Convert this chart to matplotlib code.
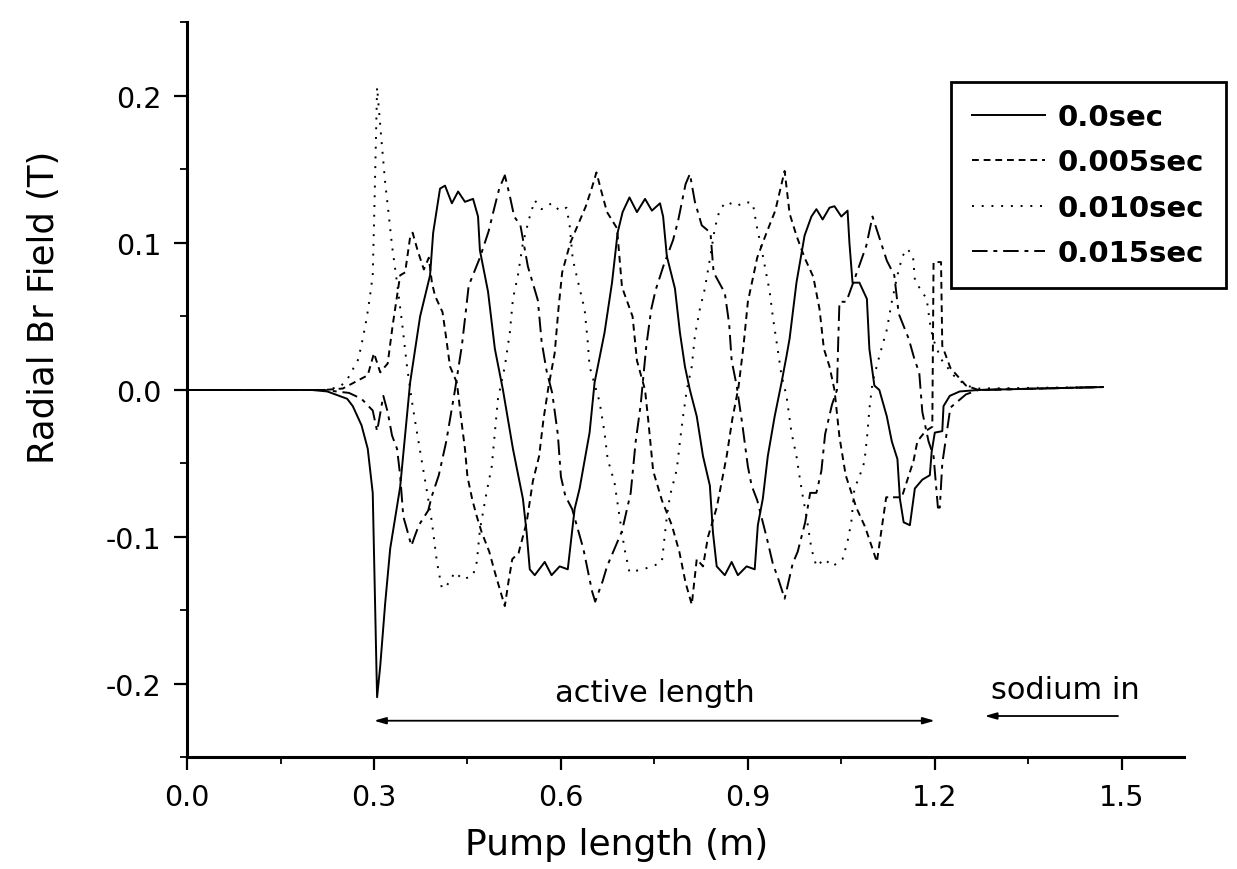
import matplotlib
matplotlib.use('Agg')
from matplotlib import pyplot as plt
from matplotlib.ticker import MultipleLocator

# 0.0 sec (solid)
X_T0 = [0.0, 0.20, 0.225, 0.257, 0.266, 0.280, 0.290, 0.298, 0.301, 0.304, 0.305, 0.310, 0.318, 0.326,
        0.342, 0.358, 0.374, 0.390, 0.395, 0.406, 0.414, 0.425, 0.435, 0.446, 0.459, 0.467, 0.470, 0.483,
        0.494, 0.507, 0.523, 0.539, 0.545, 0.550, 0.558, 0.574, 0.585, 0.598, 0.611, 0.622, 0.630, 0.646,
        0.654, 0.670, 0.682, 0.691, 0.699, 0.710, 0.722, 0.735, 0.746, 0.759, 0.764, 0.770, 0.783, 0.791,
        0.799, 0.807, 0.818, 0.828, 0.839, 0.844, 0.850, 0.863, 0.874, 0.884, 0.898, 0.911, 0.916, 0.924,
        0.932, 0.943, 0.954, 0.962, 0.967, 0.978, 0.991, 1.002, 1.010, 1.020, 1.031, 1.039, 1.050, 1.060,
        1.063, 1.068, 1.079, 1.091, 1.095, 1.103, 1.111, 1.123, 1.131, 1.140, 1.144, 1.150, 1.160, 1.168,
        1.180, 1.192, 1.195, 1.200, 1.212, 1.214, 1.224, 1.240, 1.27, 1.47]
Y_T0 = [0.0, 0.0, -0.001, -0.006, -0.011, -0.024, -0.040, -0.070, -0.130, -0.190, -0.209, -0.188, -0.145,
        -0.108, -0.066, 0.005, 0.050, 0.078, 0.107, 0.137, 0.139, 0.127, 0.135, 0.128, 0.130, 0.118, 0.095,
        0.067, 0.028, 0.000, -0.040, -0.074, -0.097, -0.122, -0.126, -0.117, -0.126, -0.120, -0.122, -0.081,
        -0.067, -0.029, 0.005, 0.039, 0.073, 0.107, 0.121, 0.131, 0.121, 0.130, 0.122, 0.127, 0.118, 0.091,
        0.069, 0.039, 0.016, 0.000, -0.018, -0.045, -0.065, -0.097, -0.120, -0.126, -0.117, -0.126, -0.120,
        -0.122, -0.092, -0.074, -0.045, -0.018, 0.005, 0.023, 0.035, 0.073, 0.105, 0.118, 0.123, 0.116,
        0.124, 0.125, 0.118, 0.122, 0.100, 0.073, 0.073, 0.062, 0.028, 0.003, 0.000, -0.018, -0.035, -0.047,
        -0.074, -0.090, -0.092, -0.067, -0.061, -0.058, -0.042, -0.029, -0.028, -0.011, -0.004, -0.001,
        0.0, 0.002]

# 0.005 sec (dashed)
X_T1 = [0.0, 0.22, 0.25, 0.29, 0.30, 0.31, 0.322, 0.33, 0.342, 0.350, 0.358, 0.362, 0.370, 0.380, 0.388,
        0.393, 0.398, 0.410, 0.416, 0.422, 0.433, 0.440, 0.446, 0.450, 0.458, 0.465, 0.473, 0.485, 0.494,
        0.505, 0.510, 0.516, 0.522, 0.532, 0.545, 0.555, 0.565, 0.572, 0.580, 0.590, 0.596, 0.602, 0.615,
        0.630, 0.640, 0.650, 0.657, 0.665, 0.674, 0.690, 0.698, 0.715, 0.722, 0.735, 0.740, 0.748, 0.762,
        0.778, 0.790, 0.800, 0.810, 0.818, 0.828, 0.836, 0.850, 0.866, 0.875, 0.885, 0.893, 0.900, 0.915,
        0.930, 0.944, 0.959, 0.967, 0.978, 0.991, 1.005, 1.015, 1.022, 1.031, 1.039, 1.047, 1.057, 1.074,
        1.088, 1.100, 1.107, 1.122, 1.147, 1.166, 1.172, 1.185, 1.196, 1.198, 1.210, 1.212, 1.225, 1.25,
        1.27, 1.47]
Y_T1 = [0.0, 0.0, 0.001, 0.010, 0.025, 0.012, 0.018, 0.044, 0.078, 0.080, 0.104, 0.107, 0.095, 0.082,
        0.090, 0.073, 0.064, 0.053, 0.035, 0.016, 0.005, -0.020, -0.040, -0.059, -0.075, -0.086, -0.097,
        -0.110, -0.124, -0.140, -0.147, -0.130, -0.115, -0.111, -0.090, -0.062, -0.045, -0.020, 0.002,
        0.025, 0.055, 0.080, 0.100, 0.115, 0.125, 0.138, 0.148, 0.135, 0.121, 0.110, 0.070, 0.050, 0.020,
        0.000, -0.020, -0.055, -0.075, -0.092, -0.110, -0.131, -0.146, -0.115, -0.120, -0.100, -0.080,
        -0.045, -0.020, 0.002, 0.030, 0.060, 0.090, 0.107, 0.122, 0.149, 0.120, 0.105, 0.090, 0.077, 0.055,
        0.028, 0.016, 0.000, -0.032, -0.058, -0.080, -0.093, -0.108, -0.117, -0.073, -0.073, -0.048,
        -0.035, -0.028, -0.025, 0.087, 0.087, 0.030, 0.015, 0.003, 0.0, 0.002]

# 0.010 sec (dotted)
X_T2 = [0.0, 0.22, 0.245, 0.257, 0.275, 0.282, 0.288, 0.293, 0.298, 0.301, 0.305, 0.312, 0.318, 0.324,
        0.329, 0.337, 0.345, 0.353, 0.361, 0.369, 0.377, 0.385, 0.393, 0.401, 0.409, 0.417, 0.430, 0.443,
        0.459, 0.465, 0.470, 0.481, 0.489, 0.494, 0.499, 0.510, 0.518, 0.523, 0.531, 0.539, 0.550, 0.558,
        0.569, 0.585, 0.598, 0.609, 0.614, 0.619, 0.630, 0.638, 0.643, 0.646, 0.662, 0.670, 0.675, 0.686,
        0.694, 0.702, 0.710, 0.731, 0.747, 0.762, 0.770, 0.775, 0.786, 0.791, 0.796, 0.802, 0.810, 0.815,
        0.823, 0.831, 0.839, 0.847, 0.855, 0.866, 0.882, 0.895, 0.908, 0.914, 0.922, 0.930, 0.935, 0.940,
        0.946, 0.954, 0.962, 0.970, 0.978, 0.983, 0.988, 0.994, 1.002, 1.010, 1.023, 1.036, 1.052, 1.060,
        1.066, 1.071, 1.079, 1.087, 1.092, 1.095, 1.100, 1.111, 1.123, 1.131, 1.140, 1.148, 1.156, 1.165,
        1.168, 1.176, 1.187, 1.192, 1.197, 1.21, 1.23, 1.25, 1.27, 1.47]
Y_T2 = [0.0, 0.0, 0.002, 0.007, 0.021, 0.035, 0.048, 0.062, 0.078, 0.130, 0.206, 0.170, 0.141, 0.118,
        0.098, 0.073, 0.046, 0.016, -0.008, -0.029, -0.049, -0.069, -0.090, -0.117, -0.135, -0.133, -0.124,
        -0.129, -0.126, -0.117, -0.095, -0.069, -0.052, -0.029, -0.006, 0.016, 0.039, 0.062, 0.078, 0.100,
        0.118, 0.129, 0.123, 0.127, 0.122, 0.124, 0.112, 0.089, 0.069, 0.055, 0.033, 0.016, -0.008, -0.029,
        -0.047, -0.063, -0.086, -0.108, -0.124, -0.122, -0.120, -0.117, -0.086, -0.072, -0.054, -0.035,
        -0.018, 0.000, 0.016, 0.037, 0.055, 0.069, 0.089, 0.110, 0.123, 0.128, 0.125, 0.128, 0.127, 0.112,
        0.096, 0.078, 0.067, 0.050, 0.033, 0.010, -0.004, -0.029, -0.045, -0.059, -0.072, -0.086, -0.108,
        -0.120, -0.115, -0.120, -0.115, -0.103, -0.090, -0.067, -0.059, -0.049, -0.029, -0.013, 0.005,
        0.023, 0.041, 0.060, 0.078, 0.091, 0.096, 0.091, 0.075, 0.069, 0.062, 0.046, 0.035, 0.021, 0.010,
        0.003, 0.001, 0.002]

# 0.015 sec (dash-dot)
X_T3 = [0.0, 0.22, 0.26, 0.28, 0.298, 0.305, 0.315, 0.322, 0.329, 0.337, 0.342, 0.347, 0.353, 0.360,
        0.365, 0.372, 0.387, 0.393, 0.404, 0.416, 0.430, 0.441, 0.447, 0.452, 0.470, 0.484, 0.492, 0.501,
        0.510, 0.518, 0.525, 0.535, 0.547, 0.563, 0.569, 0.577, 0.586, 0.595, 0.600, 0.607, 0.618, 0.636,
        0.650, 0.655, 0.667, 0.674, 0.698, 0.712, 0.720, 0.728, 0.737, 0.745, 0.752, 0.765, 0.780, 0.788,
        0.800, 0.807, 0.815, 0.826, 0.840, 0.845, 0.863, 0.870, 0.874, 0.882, 0.891, 0.900, 0.906, 0.915,
        0.930, 0.940, 0.950, 0.959, 0.972, 0.980, 0.992, 1.000, 1.010, 1.018, 1.024, 1.035, 1.043, 1.045,
        1.047, 1.058, 1.075, 1.090, 1.100, 1.110, 1.123, 1.135, 1.142, 1.158, 1.168, 1.175, 1.180, 1.190,
        1.198, 1.205, 1.208, 1.212, 1.225, 1.25, 1.27, 1.47]
Y_T3 = [0.0, 0.0, -0.002, -0.006, -0.014, -0.028, -0.004, -0.015, -0.031, -0.040, -0.058, -0.086, -0.095,
        -0.106, -0.100, -0.092, -0.082, -0.072, -0.058, -0.035, 0.000, 0.030, 0.052, 0.071, 0.090, 0.108,
        0.122, 0.137, 0.146, 0.132, 0.118, 0.112, 0.084, 0.061, 0.033, 0.013, -0.002, -0.030, -0.059,
        -0.072, -0.081, -0.108, -0.137, -0.144, -0.130, -0.120, -0.096, -0.070, -0.035, -0.010, 0.030,
        0.055, 0.068, 0.085, 0.102, 0.115, 0.140, 0.147, 0.128, 0.112, 0.107, 0.080, 0.066, 0.045, 0.020,
        0.003, -0.023, -0.052, -0.065, -0.075, -0.100, -0.118, -0.130, -0.142, -0.118, -0.110, -0.090,
        -0.070, -0.070, -0.055, -0.030, -0.010, 0.000, 0.033, 0.060, 0.060, 0.080, 0.098, 0.118, 0.105,
        0.088, 0.078, 0.052, 0.035, 0.020, 0.012, -0.015, -0.035, -0.045, -0.080, -0.080, -0.050, -0.012,
        -0.003, 0.0, 0.002]

SERIES = ['0.0sec', '0.005sec', '0.010sec', '0.015sec']
X_TICKS = [0.0, 0.3, 0.6, 0.9, 1.2, 1.5]
X_TICK_LABELS = ['0.0', '0.3', '0.6', '0.9', '1.2', '1.5']
Y_TICKS = [-0.2, -0.1, 0.0, 0.1, 0.2]
Y_TICK_LABELS = ['-0.2', '-0.1', '0.0', '0.1', '0.2']

ACTIVE_START = 0.30
ACTIVE_END = 1.20


def main():
    plt.rcParams['font.family'] = ['DejaVu Sans']
    fig = plt.figure(figsize=(12.37, 8.7), dpi=100)
    ax = fig.add_axes([0.1512, 0.1282, 0.806, 0.8448])

    styles = ['-', (0, (3.5, 2.5)), (0, (1, 4)), (0, (8, 3, 2, 3))]
    xs = [X_T0, X_T1, X_T2, X_T3]
    ys = [Y_T0, Y_T1, Y_T2, Y_T3]
    for x, y, ls, name in zip(xs, ys, styles, SERIES):
        ax.plot(x, y, color='black', linestyle=ls, linewidth=1.4, label=name)

    ax.set_xlim(0, 1.6)
    ax.set_ylim(-0.25, 0.25)
    ax.set_xticks(X_TICKS)
    ax.set_xticklabels(X_TICK_LABELS)
    ax.set_yticks(Y_TICKS)
    ax.set_yticklabels(Y_TICK_LABELS)
    ax.xaxis.set_minor_locator(MultipleLocator(0.15))
    ax.yaxis.set_minor_locator(MultipleLocator(0.05))
    ax.tick_params(which='major', direction='out', length=9.5, width=1.6, labelsize=20.5, pad=9)
    ax.tick_params(which='minor', direction='out', length=5, width=1.3)
    for side in ['top', 'right']:
        ax.spines[side].set_visible(False)
    for side in ['left', 'bottom']:
        ax.spines[side].set_linewidth(2.2)

    ax.set_xlabel('Pump length (m)', fontsize=26, va='center')
    ax.set_ylabel('Radial Br Field (T)', fontsize=25.5, va='center')
    ax.xaxis.set_label_coords(0.431, -0.118)
    ax.yaxis.set_label_coords(-0.143, 0.614)

    ax.annotate('', xy=(ACTIVE_START, -0.225), xytext=(ACTIVE_END, -0.225),
                arrowprops=dict(arrowstyle='<|-|>,head_length=0.7,head_width=0.2', color='black', lw=1.3,
                                shrinkA=0, shrinkB=0))
    ax.text(0.751, -0.2055, 'active length', fontsize=22, ha='center', va='center')
    ax.annotate('', xy=(1.28, -0.2218), xytext=(1.494, -0.2218),
                arrowprops=dict(arrowstyle='-|>,head_length=0.7,head_width=0.2', color='black', lw=1.3,
                                shrinkA=0, shrinkB=0))
    ax.text(1.409, -0.204, 'sodium in', fontsize=22, ha='center', va='center')

    leg = fig.legend(loc='upper left', bbox_to_anchor=(0.7688, 0.9046), frameon=True, fancybox=False,
                     edgecolor='black', framealpha=1, prop={'size': 21, 'weight': 'bold'},
                     handlelength=2.5, handletextpad=0.45, labelspacing=0.6, borderpad=0.72,
                     borderaxespad=0)
    leg.get_frame().set_linewidth(2.0)

    fig.savefig('out.png', dpi=100)


if __name__ == '__main__':
    main()
